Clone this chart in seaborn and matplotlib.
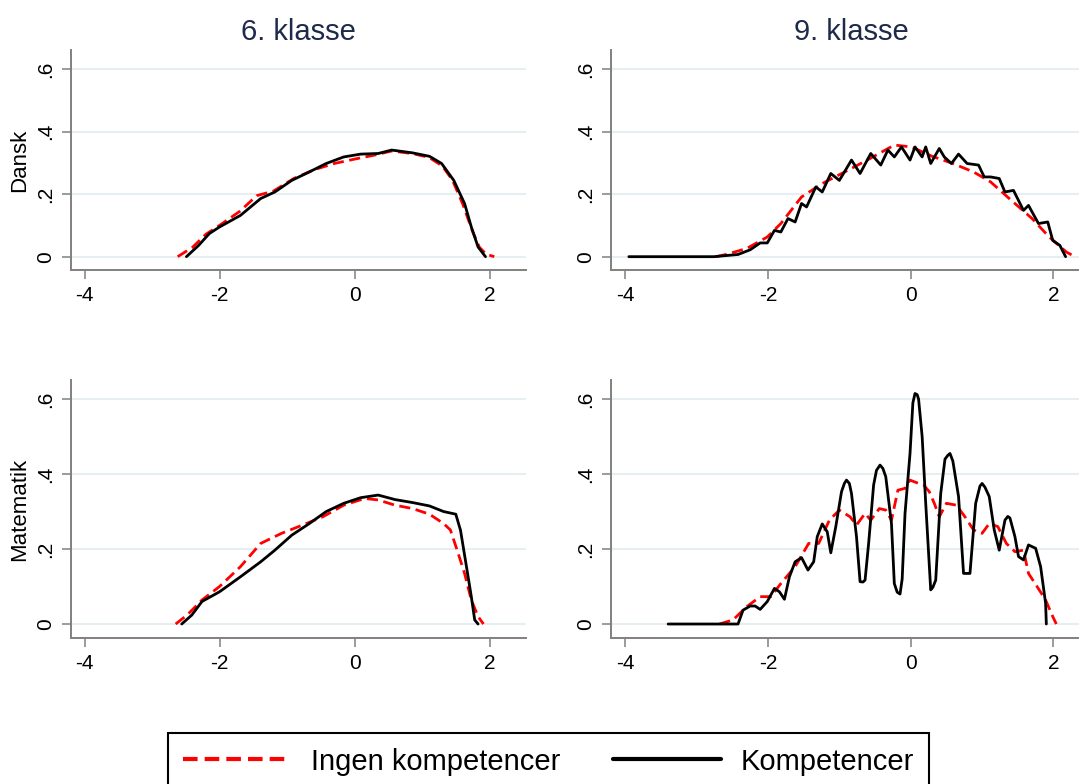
import matplotlib
matplotlib.use("Agg")
import matplotlib.pyplot as plt
import seaborn as sns
import pandas as pd

# --- DATA ---
# 6. klasse, Dansk
d6_ingen_x = [-2.62, -2.4, -2.2, -2.0, -1.7, -1.45, -1.2, -0.9, -0.6, -0.3, 0.0, 0.3, 0.55,
              0.85, 1.1, 1.3, 1.45, 1.6, 1.75, 1.85, 1.95, 2.07]
d6_ingen_y = [0.0, 0.03, 0.072, 0.1, 0.145, 0.195, 0.21, 0.25, 0.278, 0.298, 0.312, 0.325, 0.338,
              0.33, 0.318, 0.29, 0.245, 0.17, 0.08, 0.03, 0.008, 0.0]
d6_komp_x = [-2.49, -2.31, -2.15, -2.0, -1.69, -1.39, -1.18, -0.93, -0.67, -0.42, -0.16, 0.09, 0.35,
             0.55, 0.86, 1.11, 1.29, 1.47, 1.63, 1.73, 1.83, 1.94]
d6_komp_y = [0.0, 0.036, 0.074, 0.095, 0.132, 0.186, 0.207, 0.244, 0.271, 0.298, 0.319, 0.328, 0.33,
             0.341, 0.332, 0.321, 0.298, 0.244, 0.17, 0.095, 0.031, 0.0]

# 6. klasse, Matematik
m6_ingen_x = [-2.65, -2.48, -2.26, -2.0, -1.69, -1.39, -1.08, -0.77, -0.47, -0.16, 0.15, 0.35, 0.6,
              0.86, 1.11, 1.32, 1.42, 1.52, 1.63, 1.73, 1.83, 1.91]
m6_ingen_y = [0.0, 0.024, 0.064, 0.1, 0.153, 0.215, 0.242, 0.264, 0.286, 0.317, 0.335, 0.331, 0.317,
              0.308, 0.293, 0.268, 0.251, 0.197, 0.135, 0.064, 0.02, 0.0]
m6_komp_x = [-2.56, -2.41, -2.26, -2.0, -1.69, -1.39, -1.18, -0.93, -0.67, -0.42, -0.16, 0.09, 0.35,
             0.6, 0.86, 1.11, 1.32, 1.5, 1.57, 1.65, 1.73, 1.78, 1.83]
m6_komp_y = [0.0, 0.024, 0.06, 0.086, 0.126, 0.166, 0.197, 0.237, 0.268, 0.3, 0.322, 0.337, 0.344,
             0.332, 0.324, 0.315, 0.3, 0.293, 0.25, 0.162, 0.073, 0.011, 0.0]

# 9. klasse, Dansk
d9_ingen_x = [-2.73, -2.59, -2.3, -2.01, -1.82, -1.53, -1.24, -0.95, -0.61, -0.23, 0.01, 0.3, 0.59,
              0.88, 1.12, 1.41, 1.7, 1.94, 2.18, 2.3]
d9_ingen_y = [0.0, 0.007, 0.026, 0.063, 0.106, 0.191, 0.234, 0.268, 0.309, 0.357, 0.351, 0.321, 0.298,
              0.271, 0.239, 0.18, 0.122, 0.063, 0.015, 0.0]
d9_komp_x = [-3.95, -2.76, -2.42, -2.25, -2.11, -2.01, -1.91, -1.82, -1.72, -1.62, -1.53, -1.46,
             -1.33, -1.24, -1.12, -1.0, -0.83, -0.71, -0.56, -0.42, -0.32, -0.23, -0.13, -0.01,
             0.06, 0.16, 0.21, 0.28, 0.4, 0.47, 0.57, 0.67, 0.79, 0.95, 1.03, 1.12, 1.24, 1.32,
             1.44, 1.58, 1.65, 1.79, 1.92, 1.99, 2.09, 2.17]
d9_komp_y = [0.0, 0.0, 0.007, 0.022, 0.044, 0.044, 0.084, 0.079, 0.122, 0.111, 0.17, 0.159,
             0.223, 0.207, 0.266, 0.244, 0.309, 0.266, 0.33, 0.293, 0.341, 0.319, 0.351, 0.309,
             0.351, 0.319, 0.351, 0.298, 0.346, 0.319, 0.298, 0.328, 0.298, 0.293, 0.255, 0.255,
             0.25, 0.207, 0.212, 0.148, 0.164, 0.106, 0.111, 0.052, 0.036, 0.0]

# 9. klasse, Matematik
m9_ingen_x = [-2.68, -2.49, -2.3, -2.11, -1.96, -1.82, -1.62, -1.43, -1.29, -1.14, -1.0, -0.85,
              -0.76, -0.64, -0.56, -0.44, -0.35, -0.27, -0.18, -0.08, -0.01, 0.11, 0.18, 0.26,
              0.33, 0.4, 0.5, 0.64, 0.76, 0.88, 1.0, 1.1, 1.22, 1.34, 1.46, 1.58, 1.65, 1.77,
              1.89, 1.99, 2.04]
m9_ingen_y = [0.0, 0.011, 0.046, 0.073, 0.073, 0.108, 0.153, 0.215, 0.215, 0.277, 0.304, 0.286,
              0.264, 0.295, 0.277, 0.308, 0.304, 0.277, 0.357, 0.362, 0.384, 0.375, 0.371, 0.353,
              0.322, 0.286, 0.322, 0.317, 0.286, 0.251, 0.242, 0.268, 0.26, 0.215, 0.193, 0.197,
              0.135, 0.1, 0.064, 0.02, 0.0]
m9_komp_x = [-3.4, -2.42, -2.35, -2.25, -2.18, -2.11, -2.01, -1.91, -1.84, -1.77, -1.7, -1.62,
             -1.53, -1.44, -1.36, -1.31, -1.24, -1.17, -1.12, -1.05, -0.97, -0.93, -0.9, -0.86,
             -0.83, -0.76, -0.71, -0.67, -0.64, -0.59, -0.52, -0.48, -0.43, -0.39, -0.35, -0.27,
             -0.23, -0.19, -0.15, -0.12, -0.08, -0.01, 0.03, 0.06, 0.09, 0.11, 0.16, 0.21, 0.28,
             0.31, 0.35, 0.42, 0.48, 0.52, 0.55, 0.59, 0.67, 0.74, 0.83, 0.91, 0.97, 1.0, 1.04,
             1.1, 1.17, 1.24, 1.32, 1.36, 1.39, 1.46, 1.51, 1.58, 1.65, 1.75, 1.82, 1.89, 1.9]
m9_komp_y = [0.0, 0.0, 0.037, 0.048, 0.048, 0.039, 0.06, 0.095, 0.086, 0.066, 0.126, 0.166,
             0.177, 0.144, 0.166, 0.233, 0.267, 0.246, 0.19, 0.26, 0.353, 0.375, 0.384, 0.375,
             0.348, 0.233, 0.113, 0.112, 0.117, 0.215, 0.371, 0.41, 0.424, 0.415, 0.393, 0.268,
             0.108, 0.085, 0.08, 0.12, 0.295, 0.455, 0.59, 0.615, 0.612, 0.6, 0.5, 0.322, 0.091,
             0.098, 0.117, 0.348, 0.44, 0.45, 0.455, 0.435, 0.34, 0.135, 0.135, 0.322,
             0.368, 0.375, 0.365, 0.34, 0.251, 0.197, 0.277, 0.287, 0.283, 0.233, 0.18, 0.171,
             0.211, 0.202, 0.153, 0.055, 0.0]

col_titles = ["6. klasse", "9. klasse"]
row_labels = ["Dansk", "Matematik"]
series_names = ["Ingen kompetencer", "Kompetencer"]
x_ticks = [-4, -2, 0, 2]
x_ticklabels = ["-4", "-2", "0", "2"]
y_ticks = [0, 0.2, 0.4, 0.6]
y_ticklabels = ["0", ".2", ".4", ".6"]

panels = {
    (0, 0): (d6_ingen_x, d6_ingen_y, d6_komp_x, d6_komp_y),
    (0, 1): (d9_ingen_x, d9_ingen_y, d9_komp_x, d9_komp_y),
    (1, 0): (m6_ingen_x, m6_ingen_y, m6_komp_x, m6_komp_y),
    (1, 1): (m9_ingen_x, m9_ingen_y, m9_komp_x, m9_komp_y),
}

# --- STYLE ---
sns.set_style("white")
plt.rcParams['font.family'] = ['Liberation Sans', 'DejaVu Sans']

W, H = 1079, 784
fig = plt.figure(figsize=(W / 100, H / 100), dpi=100)

# pixel boxes (left, right, top, bottom)
boxes = {
    (0, 0): (71, 526, 50, 270),
    (0, 1): (611, 1092, 50, 270),
    (1, 0): (71, 526, 380, 637.7),
    (1, 1): (611, 1092, 380, 637.7),
}
ylims = {0: (-0.0426, 0.661), 1: (-0.0365, 0.651)}
axis_gray = "#808080"
red = "#ff0000"

for (r, c), (xi, yi, xk, yk) in panels.items():
    l, rgt, t, b = boxes[(r, c)]
    ax = fig.add_axes([l / W, 1 - b / H, (rgt - l) / W, (b - t) / H])
    for yv in y_ticks:
        ax.axhline(yv, color="#e6eef1", lw=1.5, zorder=0)
    sns.lineplot(x=xi, y=yi, ax=ax, color=red, lw=2, estimator=None,
                 dashes=False, linestyle=(0, (4, 2)))
    sns.lineplot(x=xk, y=yk, ax=ax, color="black", lw=2, estimator=None)
    ax.set_xlim(-4.2, 2.54)
    ax.set_ylim(*ylims[r])
    ax.set_xticks(x_ticks)
    ax.set_xticklabels(x_ticklabels, fontsize=15)
    ax.set_yticks(y_ticks)
    ax.set_yticklabels(y_ticklabels, fontsize=15, rotation=90, va="center")
    ax.tick_params(axis="both", direction="out", length=6.5, width=1.1,
                   color=axis_gray, labelcolor="black", pad=5, left=True, bottom=True)
    for s in ["top", "right"]:
        ax.spines[s].set_visible(False)
    for s in ["left", "bottom"]:
        ax.spines[s].set_color(axis_gray)
        ax.spines[s].set_linewidth(1.4)
    ax.set_xlabel("")
    ax.set_ylabel("")
    if r == 0:
        ax.set_title(col_titles[c], fontsize=21, color="#1e2a4a", pad=7)

fig.text(20 / W, 1 - 160 / H, row_labels[0], rotation=90, ha="center", va="center",
         fontsize=16, color="black")
fig.text(20 / W, 1 - 509 / H, row_labels[1], rotation=90, ha="center", va="center",
         fontsize=16, color="black")

# --- LEGEND ---
handles = [plt.Line2D([], [], color=red, lw=3, linestyle=(0, (3.5, 1.7))),
           plt.Line2D([], [], color="black", lw=3)]
leg = fig.legend(handles, series_names, loc="upper center", ncol=2,
                 bbox_to_anchor=(548.5 / W, 1 - 733 / H), fontsize=21,
                 frameon=True, fancybox=False, edgecolor="black", framealpha=1,
                 handlelength=3.7, handletextpad=0.7, columnspacing=1.8,
                 borderpad=0.5, borderaxespad=0)
leg.get_frame().set_linewidth(1.5)
for txt in leg.get_texts():
    txt.set_color("black")

fig.savefig("out.png", dpi=100)
